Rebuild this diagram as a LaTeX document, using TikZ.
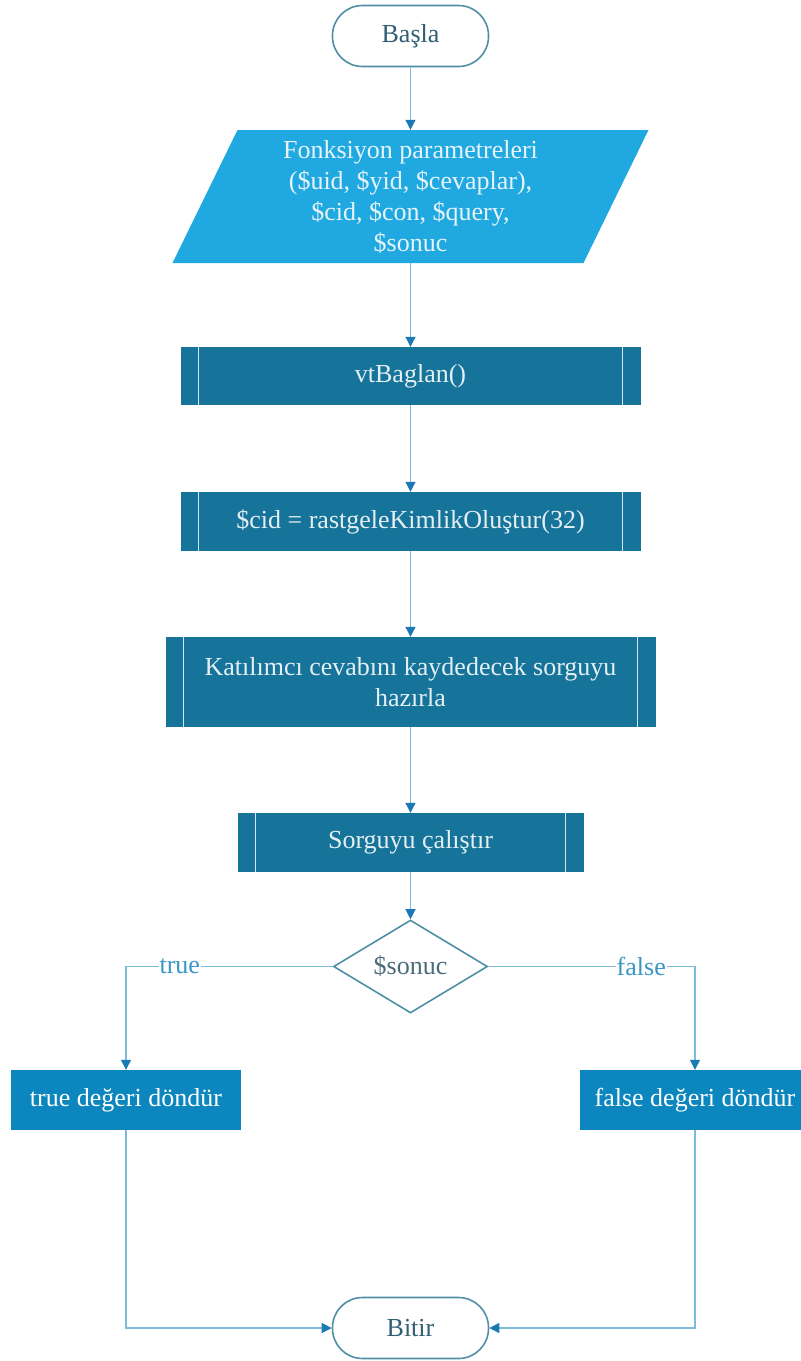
\documentclass[tikz,border=0pt]{standalone}
\usepackage{fontspec}
\setmainfont{Liberation Serif}
\usetikzlibrary{shapes.geometric,arrows.meta,calc}

\definecolor{termline}{HTML}{4F8FA6}
\definecolor{termtext}{HTML}{2F5F72}
\definecolor{iofill}{HTML}{20A9E1}
\definecolor{iotext}{HTML}{E6F4FA}
\definecolor{subfill}{HTML}{16739A}
\definecolor{subtext}{HTML}{E4EFF4}
\definecolor{subline}{HTML}{D2E7F0}
\definecolor{retfill}{HTML}{0C86BE}
\definecolor{connline}{HTML}{7DBADB}
\definecolor{tipcol}{HTML}{1B7AB3}
\definecolor{labcol}{HTML}{3A97C4}
\definecolor{dectext}{HTML}{4A6B79}

\begin{document}
\begin{tikzpicture}[x=1pt,y=-1pt,
  basefont/.style={font=\fontsize{26}{31}\selectfont},
  terminal/.style={basefont, rectangle, rounded corners=30pt, draw=termline,
    line width=1.6pt, minimum width=156pt, minimum height=61pt, text=termtext},
  iobox/.style={basefont, rectangle, minimum width=476pt, minimum height=133pt,
    inner sep=0pt, text=iotext, align=center,
    path picture={
      \fill[iofill] ($(path picture bounding box.north west)+(65,0)$)
        -- (path picture bounding box.north east)
        -- ($(path picture bounding box.south east)+(-65,0)$)
        -- (path picture bounding box.south west) -- cycle;}},
  subbox/.style={basefont, rectangle, fill=subfill, text=subtext, align=center,
    inner sep=0pt,
    path picture={
      \draw[subline, line width=1.4pt]
        ($(path picture bounding box.north west)+(18,0)$)
        -- ($(path picture bounding box.south west)+(18,0)$);
      \draw[subline, line width=1.4pt]
        ($(path picture bounding box.north east)+(-18,0)$)
        -- ($(path picture bounding box.south east)+(-18,0)$);}},
  retbox/.style={basefont, rectangle, fill=retfill, text=white,
    minimum width=230pt, minimum height=60pt, inner sep=0pt},
  decision/.style={basefont, diamond, draw=termline, line width=1.6pt,
    aspect=1.66, minimum width=154pt, minimum height=93pt, inner sep=0pt,
    text=dectext},
  conn/.style={draw=connline, line width=1.1pt,
    -{Triangle[length=10pt,width=10pt,color=tipcol,fill=tipcol]}},
  branch/.style={basefont, fill=white, inner sep=1pt, text=labcol}
]
\useasboundingbox (0,0) rectangle (801,1361);

% main column, all centred on x = 410.5
\node[terminal] (start) at (410.5,36) {Başla};
\node[iobox] (params) at (410.5,196.5) {Fonksiyon parametreleri\\(\$uid, \$yid, \$cevaplar),\\\$cid, \$con, \$query,\\\$sonuc};
\node[subbox, minimum width=460pt, minimum height=58pt] (connect) at (410.5,376) {vtBaglan()};
\node[subbox, minimum width=460pt, minimum height=59pt] (genid) at (410.5,521.5) {\$cid = rastgeleKimlikOluştur(32)};
\node[subbox, minimum width=490pt, minimum height=90pt] (prep) at (410.5,682) {Katılımcı cevabını kaydedecek sorguyu\\hazırla};
\node[subbox, minimum width=346pt, minimum height=59pt] (run) at (410.5,842.5) {Sorguyu çalıştır};
\node[decision] (check) at (410.5,966.5) {\$sonuc};
% return boxes
\node[retbox] (rtrue) at (126,1100) {true değeri döndür};
\node[retbox] (rfalse) at (695,1100) {false değeri döndür};
\node[terminal] (stop) at (410.5,1328) {Bitir};

\draw[conn] (start) -- (params);
\draw[conn] (params) -- (connect);
\draw[conn] (connect) -- (genid);
\draw[conn] (genid) -- (prep);
\draw[conn] (prep) -- (run);
\draw[conn] (run) -- (check);
\draw[conn] (check.west) -| node[branch, pos=0.37] {true} (rtrue.north);
\draw[conn] (check.east) -| node[branch, pos=0.37] {false} (rfalse.north);
\draw[conn] (rtrue.south) |- (stop.west);
\draw[conn] (rfalse.south) |- (stop.east);
\end{tikzpicture}
\end{document}
